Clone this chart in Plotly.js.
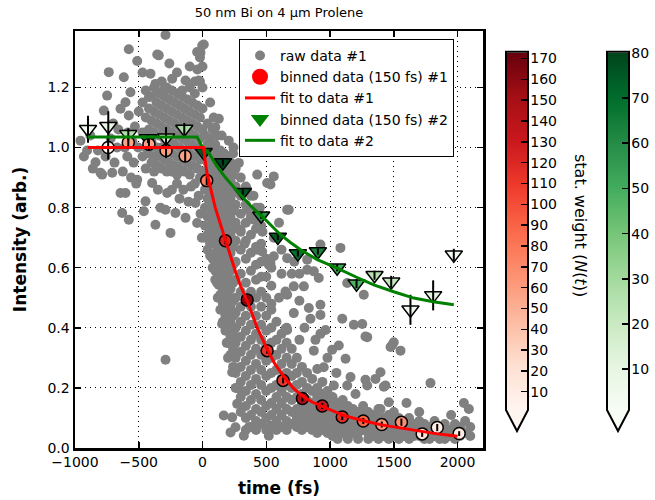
<!DOCTYPE html>
<html>
<head>
<meta charset="utf-8">
<script src="https://cdn.plot.ly/plotly-3.0.1.min.js"></script>
<style>html,body{margin:0;padding:0;background:#fff;}</style>
</head>
<body>
<div id="chart" style="width:655px;height:500px;"></div>
<script>
// ---------- raw data #1 (grouped by time column) ----------
const rawColumns = [
  [-957,[1.023]],[-930,[0.97]],[-905,[0.99]],[-880,[1.04]],[-860,[0.93]],[-839,[0.951]],[-820,[0.99]],
  [-800,[0.916]],[-787,[0.91]],[-774,[1.123]],[-760,[0.97]],[-748,[1.173]],[-735,[1.251]],[-720,[1.03]],
  [-708,[0.916]],[-700,[1.08]],[-690,[0.95]],[-670,[1.0]],[-660,[1.06]],[-643,[1.129,0.849]],[-630,[0.782]],
  [-625,[0.92]],[-617,[1.234]],[-610,[1.0]],[-604,[1.151,0.849]],[-590,[0.97]],[-585,[1.05]],
  [-578,[1.327,1.107,0.76]],[-565,[1.184]],[-560,[0.9]],[-550,[1.02]],[-540,[0.95]],[-530,[1.07]],
  [-520,[0.88]],[-512,[1.288,0.893]],[-505,[1.0]],[-500,[1.12]],
  [-470,[1.25,1.15,1.05,0.97]],[-460,[0.788]],[-447,[0.821]],[-445,[1.19,1.1,1.0,0.93]],[-420,[1.168,1.13,1.06,0.98]],
  [-408,[1.246]],[-400,[1.17,1.09,1.02,0.95]],[-395,[0.882]],[-380,[1.2,1.12,1.05,0.97,0.92]],[-369,[1.212,0.743]],
  [-360,[1.15,1.08,1.0,0.94]],[-355,[1.31]],[-350,[0.86]],[-343,[1.307]],[-340,[1.18,1.11,1.04,0.97]],
  [-330,[0.8]],[-320,[1.22,1.14,1.07,1.0,0.93]],[-310,[1.19]],[-300,[1.17,1.1,1.03,0.96]],[-290,[1.375,0.793,0.294]],
  [-280,[1.2,1.13,1.06,0.99,0.92]],[-277,[0.849]],[-260,[1.28,1.16,1.09,1.02,0.95]],[-251,[0.716]],
  [-240,[1.19,1.12,1.05,0.98,0.92,0.86]],[-238,[1.229]],[-220,[1.15,1.08,1.01,0.94]],[-212,[0.782]],
  [-200,[1.25,1.18,1.11,1.04,0.97,0.91,0.88]],[-180,[1.14,1.07,1.0,0.93,0.83]],[-160,[1.19,1.17,1.1,1.03,0.96]],
  [-150,[0.86]],[-140,[1.13,1.06,0.99,0.92]],[-133,[1.223,0.766]],[-120,[1.16,1.09,1.02,0.95]],[-110,[0.82]],
  [-100,[1.27,1.2,1.12,1.05,0.98,0.91]],[-90,[0.87]],[-80,[1.15,1.08,1.01,0.94]],[-60,[1.22,1.18,1.11,1.04,0.97,0.88]],
  [-55,[0.816]],[-42,[1.318,0.749]],[-40,[1.26,1.14,1.07,1.0,0.93]],[-30,[0.84]],[-29,[1.223]],
  [-20,[1.3,1.22,1.1,1.03,0.96,0.9]],[-16,[1.316]],[-15,[0.78]],[-5,[0.7]],[-2,[1.34]],
  [0,[1.27,1.2,1.13,1.06,0.99,0.92]],[10,[1.343]],
  [20,[1.04,0.98,0.92,0.86,0.8,0.74,0.7]],[40,[1.08,1.01,0.95,0.89,0.83,0.77,0.71,0.66]],
  [60,[1.15,1.03,0.97,0.91,0.85,0.79,0.73,0.68,0.64]],[80,[1.06,0.99,0.93,0.87,0.81,0.75,0.69,0.63,0.6]],
  [88,[1.1]],[100,[1.068,1.01,0.95,0.89,0.83,0.77,0.71,0.65,0.59,0.56]],[115,[0.549]],
  [120,[1.04,0.97,0.91,0.85,0.79,0.73,0.67,0.61,0.55,0.5]],[128,[1.096,0.543]],
  [140,[0.99,0.93,0.87,0.81,0.75,0.69,0.63,0.57,0.51,0.46]],[150,[1.04]],[154,[0.51,0.413]],
  [160,[0.95,0.89,0.83,0.77,0.71,0.65,0.59,0.53,0.48,0.42]],[167,[0.108]],[170,[0.98]],
  [180,[0.97,0.91,0.85,0.79,0.73,0.67,0.61,0.55,0.527,0.49,0.44,0.39]],[190,[0.35]],[193,[0.904]],
  [200,[0.93,0.87,0.81,0.75,0.69,0.63,0.57,0.51,0.46,0.4,0.35,0.3]],[206,[1.023]],
  [220,[0.95,0.89,0.83,0.77,0.71,0.65,0.59,0.53,0.47,0.42,0.37,0.31,0.052]],
  [233,[0.252,0.102]],[240,[0.98,0.91,0.85,0.79,0.73,0.67,0.61,0.55,0.49,0.44,0.38,0.33,0.27]],[243,[1.0]],
  [259,[0.308,0.069]],[260,[0.93,0.87,0.81,0.75,0.69,0.62,0.56,0.5,0.45,0.4,0.35,0.3,0.25,0.2]],
  [272,[0.147]],[285,[0.949,0.197]],[298,[0.727]],
  [300,[0.9,0.84,0.78,0.72,0.66,0.58,0.52,0.47,0.42,0.37,0.32,0.27,0.22,0.17,0.12]],
  [324,[0.041]],[330,[0.68]],
  [340,[0.87,0.81,0.75,0.69,0.63,0.55,0.5,0.44,0.39,0.34,0.29,0.24,0.19,0.14,0.1,0.06]],
  [350,[0.86,0.793]],[363,[0.069]],
  [380,[0.84,0.77,0.71,0.65,0.59,0.52,0.47,0.41,0.36,0.31,0.26,0.21,0.16,0.11,0.07]],
  [400,[0.84]],[403,[0.76]],
  [420,[0.8,0.73,0.67,0.61,0.56,0.5,0.44,0.38,0.33,0.28,0.23,0.18,0.13,0.09,0.06]],
  [429,[0.91,0.66]],[450,[0.8]],
  [460,[0.74,0.68,0.62,0.57,0.52,0.47,0.41,0.36,0.31,0.26,0.21,0.16,0.12,0.08]],[468,[0.654]],[470,[0.72]],
  [500,[0.63,0.57,0.5,0.44,0.39,0.34,0.29,0.24,0.19,0.14,0.1,0.06]],[507,[0.882]],[520,[0.61,0.041]],
  [533,[0.877,0.616,0.074]],[540,[0.6,0.54,0.48,0.46,0.4,0.35,0.3,0.25,0.2,0.15,0.11,0.07]],
  [559,[0.904,0.638]],[560,[0.7]],
  [580,[0.42,0.36,0.31,0.26,0.21,0.17,0.13,0.09,0.06]],[600,[0.75,0.5]],
  [620,[0.66,0.58,0.38,0.33,0.28,0.23,0.19,0.15,0.11,0.07]],
  [651,[0.521,0.397]],[660,[0.4,0.35,0.3,0.25,0.21,0.17,0.13,0.09,0.06]],[664,[0.793,0.632,0.51,0.393]],
  [677,[0.793]],[700,[0.58,0.33,0.28,0.24,0.2,0.16,0.12,0.08]],
  [716,[0.538,0.449]],[720,[0.62]],[740,[0.3,0.25,0.21,0.17,0.13,0.1,0.07]],[760,[0.58,0.49,0.36]],
  [780,[0.27,0.22,0.18,0.15,0.12,0.09,0.06]],[795,[0.538]],[800,[0.4]],
  [820,[0.25,0.2,0.16,0.13,0.1,0.07]],[821,[0.627,0.593]],[834,[0.466]],[847,[0.43]],
  [860,[0.23,0.19,0.15,0.12,0.09,0.06]],[873,[0.588,0.324]],[886,[0.36]],
  [900,[0.263,0.2,0.17,0.14,0.11,0.08,0.05]],[912,[0.566]],[925,[0.677,0.477,0.443,0.38]],
  [940,[0.22,0.18,0.15,0.12,0.09,0.06]],[951,[0.269]],[965,[0.393]],
  [980,[0.3,0.19,0.16,0.13,0.1,0.07,0.05]],[1017,[0.327]],
  [1020,[0.17,0.14,0.11,0.08,0.06,0.04]],[1030,[0.208]],[1050,[0.25]],
  [1060,[0.15,0.12,0.1,0.07,0.05,0.03]],[1069,[0.341]],[1082,[0.666]],[1096,[0.43]],
  [1100,[0.16,0.13,0.1,0.08,0.05]],[1122,[0.297]],[1135,[0.549,0.208]],
  [1140,[0.14,0.11,0.09,0.06,0.03]],[1161,[0.236]],[1180,[0.13,0.1,0.08,0.05]],[1187,[0.41]],
  [1200,[0.18]],[1220,[0.12,0.1,0.07,0.05,0.03]],[1253,[0.413]],
  [1260,[0.14,0.11,0.08,0.06]],[1265,[0.51]],[1278,[0.371,0.227]],[1292,[0.369,0.208]],
  [1300,[0.12,0.09,0.07,0.05,0.03]],[1340,[0.11,0.09,0.06,0.04]],[1357,[0.23]],
  [1380,[0.13,0.1,0.07,0.05,0.03]],[1396,[0.252,0.13]],[1420,[0.1,0.08,0.06,0.04]],[1422,[0.204]],
  [1435,[0.208]],[1460,[0.11,0.08,0.05,0.03]],[1461,[0.152]],[1475,[0.336]],[1488,[0.343]],
  [1500,[0.352,0.12,0.09,0.06,0.04]],[1540,[0.1,0.07,0.05,0.03]],[1553,[0.324]],
  [1580,[0.09,0.07,0.04]],[1600,[0.15]],[1620,[0.1,0.07,0.05,0.03]],[1660,[0.08,0.06,0.04]],
  [1700,[0.12,0.09,0.06,0.04]],[1740,[0.08,0.05,0.03]],[1780,[0.07,0.05,0.03]],[1788,[0.216]],
  [1820,[0.09,0.06,0.04]],[1860,[0.07,0.05,0.03]],[1900,[0.08,0.05,0.03]],[1940,[0.06,0.04]],
  [1950,[0.11]],[1980,[0.08,0.05,0.03]],[2020,[0.07,0.04]],[2050,[0.15]],[2060,[0.09,0.05]],
  [2089,[0.13]],[2100,[0.07,0.04]]
];

// ---------- binned data #1 ----------
const bin1Time   = [-740,-582,-420,-286,-136,33,180,350,507,632,784,939,1096,1261,1406,1560,1723,1841,2013];
const bin1Value  = [1.0,1.017,1.011,0.99,0.972,0.89,0.69,0.493,0.324,0.225,0.165,0.14,0.103,0.09,0.078,0.086,0.047,0.068,0.048];
const bin1Err    = [0.04,0.02,0.02,0.025,0.02,0.015,0.012,0.012,0.01,0.01,0.01,0.01,0.01,0.01,0.01,0.012,0.01,0.012,0.008];
const bin1Weight = [8,56,56,60,58,78,121,160,114,110,147,131,116,90,62,66,20,9,13];

// ---------- fit to data #1 ----------
const fit1Time  = [-900,8,20,35,100,180,260,298,350,430,507,570,638,710,787,860,939,1020,1096,1180,1257,1330,1404,1490,1566,1640,1723,1780,1841,1920,2000];
const fit1Value = [1.0,1.0,0.96,0.915,0.8,0.69,0.585,0.54,0.49,0.4,0.328,0.278,0.238,0.2,0.172,0.153,0.138,0.123,0.11,0.1,0.091,0.084,0.077,0.071,0.066,0.06,0.054,0.05,0.047,0.043,0.039];

// ---------- binned data #2 ----------
const bin2Time   = [-898,-739,-582,-428,-286,-143,9,160,316,460,591,748,905,1056,1208,1349,1480,1631,1809,1971];
const bin2Value  = [1.061,1.071,1.044,1.03,1.033,1.062,0.984,0.95,0.851,0.773,0.702,0.647,0.654,0.6,0.547,0.575,0.553,0.46,0.508,0.643];
const bin2Err    = [0.045,0.05,0.02,0.015,0.035,0.02,0.012,0.01,0.01,0.01,0.01,0.01,0.01,0.012,0.015,0.015,0.02,0.05,0.05,0.02];
const bin2Weight = [3,8,27,62,15,29,75,80,76,59,75,69,64,51,48,25,22,4,12,3];

// ---------- fit to data #2 ----------
const fit2Time  = [-900,-42,0,50,110,180,285,380,468,540,612,690,769,900,1056,1200,1343,1500,1657,1810,1971];
const fit2Value = [1.035,1.035,1.0,0.982,0.94,0.9,0.849,0.805,0.771,0.74,0.71,0.684,0.66,0.627,0.599,0.57,0.543,0.52,0.499,0.487,0.477];

// colour bar ticks
const redTicks = [10,20,30,40,50,60,70,80,90,100,110,120,130,140,150,160,170];
const greenTicks = [10,20,30,40,50,60,70,80];

const rawX = [], rawY = [];
rawColumns.forEach(c => c[1].forEach(v => { rawX.push(c[0]); rawY.push(v); }));

const RedsMPL = [[0,'#fff5f0'],[0.125,'#fee0d2'],[0.25,'#fcbba1'],[0.375,'#fc9272'],[0.5,'#fb6a4a'],[0.625,'#ef3b2c'],[0.75,'#cb181d'],[0.875,'#a50f15'],[1,'#67000d']];
const GreensMPL = [[0,'#f7fcf5'],[0.125,'#e5f5e0'],[0.25,'#c7e9c0'],[0.375,'#a1d99b'],[0.5,'#74c476'],[0.625,'#41ab5d'],[0.75,'#238b45'],[0.875,'#006d2c'],[1,'#00441b']];

const cbCommon = {
  xanchor:'left', xpad:0, ypad:0, y:0.5195, yanchor:'middle',
  len:357, lenmode:'pixels', thickness:20, thicknessmode:'pixels',
  outlinewidth:0, borderwidth:0,
  ticks:'inside', ticklen:6, tickwidth:1.5, tickcolor:'black',
  tickfont:{size:14, color:'black'}, tickmode:'array'
};

const traces = [
  {x:rawX, y:rawY, type:'scatter', mode:'markers', name:'raw data #1',
   marker:{color:'#808080', size:10}, legendrank:1},
  {x:bin2Time, y:bin2Value, type:'scatter', mode:'markers', showlegend:false,
   marker:{symbol:'triangle-down', size:15, color:bin2Weight, colorscale:GreensMPL, cmin:1, cmax:80,
     line:{color:'black', width:1.5}, showscale:true,
     colorbar:Object.assign({}, cbCommon, {x:1.3064, tickvals:greenTicks})}},
  {x:bin1Time, y:bin1Value, type:'scatter', mode:'markers', showlegend:false,
   marker:{symbol:'circle', size:12, color:bin1Weight, colorscale:RedsMPL, cmin:1.3, cmax:172.7,
     line:{color:'black', width:1.5}, showscale:true,
     colorbar:Object.assign({}, cbCommon, {x:1.0588, tickvals:redTicks})}},
  {x:bin2Time, y:bin2Value, type:'scatter', mode:'markers', showlegend:false, hoverinfo:'skip',
   marker:{size:4, opacity:0},
   error_y:{type:'data', array:bin2Err, visible:true, color:'black', thickness:2, width:0}},
  {x:bin1Time, y:bin1Value, type:'scatter', mode:'markers', showlegend:false, hoverinfo:'skip',
   marker:{size:4, opacity:0},
   error_y:{type:'data', array:bin1Err, visible:true, color:'black', thickness:2, width:0}},
  {x:fit2Time, y:fit2Value, type:'scatter', mode:'lines', name:'fit to data #2',
   line:{color:'#008000', width:3}, legendrank:5},
  {x:fit1Time, y:fit1Value, type:'scatter', mode:'lines', name:'fit to data #1',
   line:{color:'#ff0000', width:3}, legendrank:3},
  {x:[null], y:[null], type:'scatter', mode:'markers', name:'binned data (150 fs) #1',
   marker:{color:'#ff0000', size:16, symbol:'circle'}, legendrank:2},
  {x:[null], y:[null], type:'scatter', mode:'markers', name:'binned data (150 fs) #2',
   marker:{color:'#008000', size:16, symbol:'triangle-down'}, legendrank:4}
];

function pent(l, r, m, top, bot, apex, fill) {
  return {type:'path', xref:'paper', yref:'paper', layer:'above',
    path:`M ${l},${top} L ${r},${top} L ${r},${bot} L ${m},${apex} L ${l},${bot} Z`,
    fillcolor:fill, line:{color:'black', width:2}};
}

const axisCommon = {
  ticks:'inside', ticklen:6, tickwidth:1.5, tickcolor:'black', mirror:'ticks',
  showline:true, linewidth:2.5, linecolor:'black',
  showgrid:true, gridcolor:'black', gridwidth:1, griddash:'1px,4px',
  zeroline:false, tickfont:{size:14, color:'black'}
};

const layout = {
  width:655, height:500,
  margin:{l:75, r:172, t:31, b:52, autoexpand:false},
  paper_bgcolor:'white', plot_bgcolor:'white',
  font:{family:'DejaVu Sans, sans-serif', size:14, color:'black'},
  title:{text:'50 nm Bi on 4 μm Prolene', font:{size:13}, xref:'paper', x:0.5, xanchor:'center',
         yref:'container', y:0.976, yanchor:'middle'},
  xaxis:Object.assign({}, axisCommon, {range:[-1000,2200], tick0:0, dtick:500, automargin:false,
         title:{text:'<b>time (fs)</b>', font:{size:17}, standoff:13}}),
  yaxis:Object.assign({}, axisCommon, {range:[0,1.388], tick0:0, dtick:0.2, tickformat:'.1f', automargin:false,
         title:{text:'<b>Intensity (arb.)</b>', font:{size:17}, standoff:17}}),
  showlegend:true,
  legend:{x:0.402, y:0.981, xanchor:'left', yanchor:'top', bgcolor:'white',
          bordercolor:'black', borderwidth:1, font:{size:14}, itemsizing:'trace', traceorder:'normal'},
  shapes:[
    pent(1.05637, 1.11029, 1.08333, 0.95036, 0.09113, 0.04077, '#fff5f0'),
    pent(1.30392, 1.35784, 1.33088, 0.95036, 0.09113, 0.04077, '#f7fcf5')
  ],
  annotations:[
    {xref:'paper', yref:'paper', x:1.2377, y:0.5324, text:'stat. weight (<i>N</i>(<i>t</i>))',
     textangle:90, showarrow:false, xanchor:'center', yanchor:'middle', font:{size:16, color:'black'}}
  ]
};

Plotly.newPlot('chart', traces, layout, {displayModeBar:false, staticPlot:true});
</script>
</body>
</html>
